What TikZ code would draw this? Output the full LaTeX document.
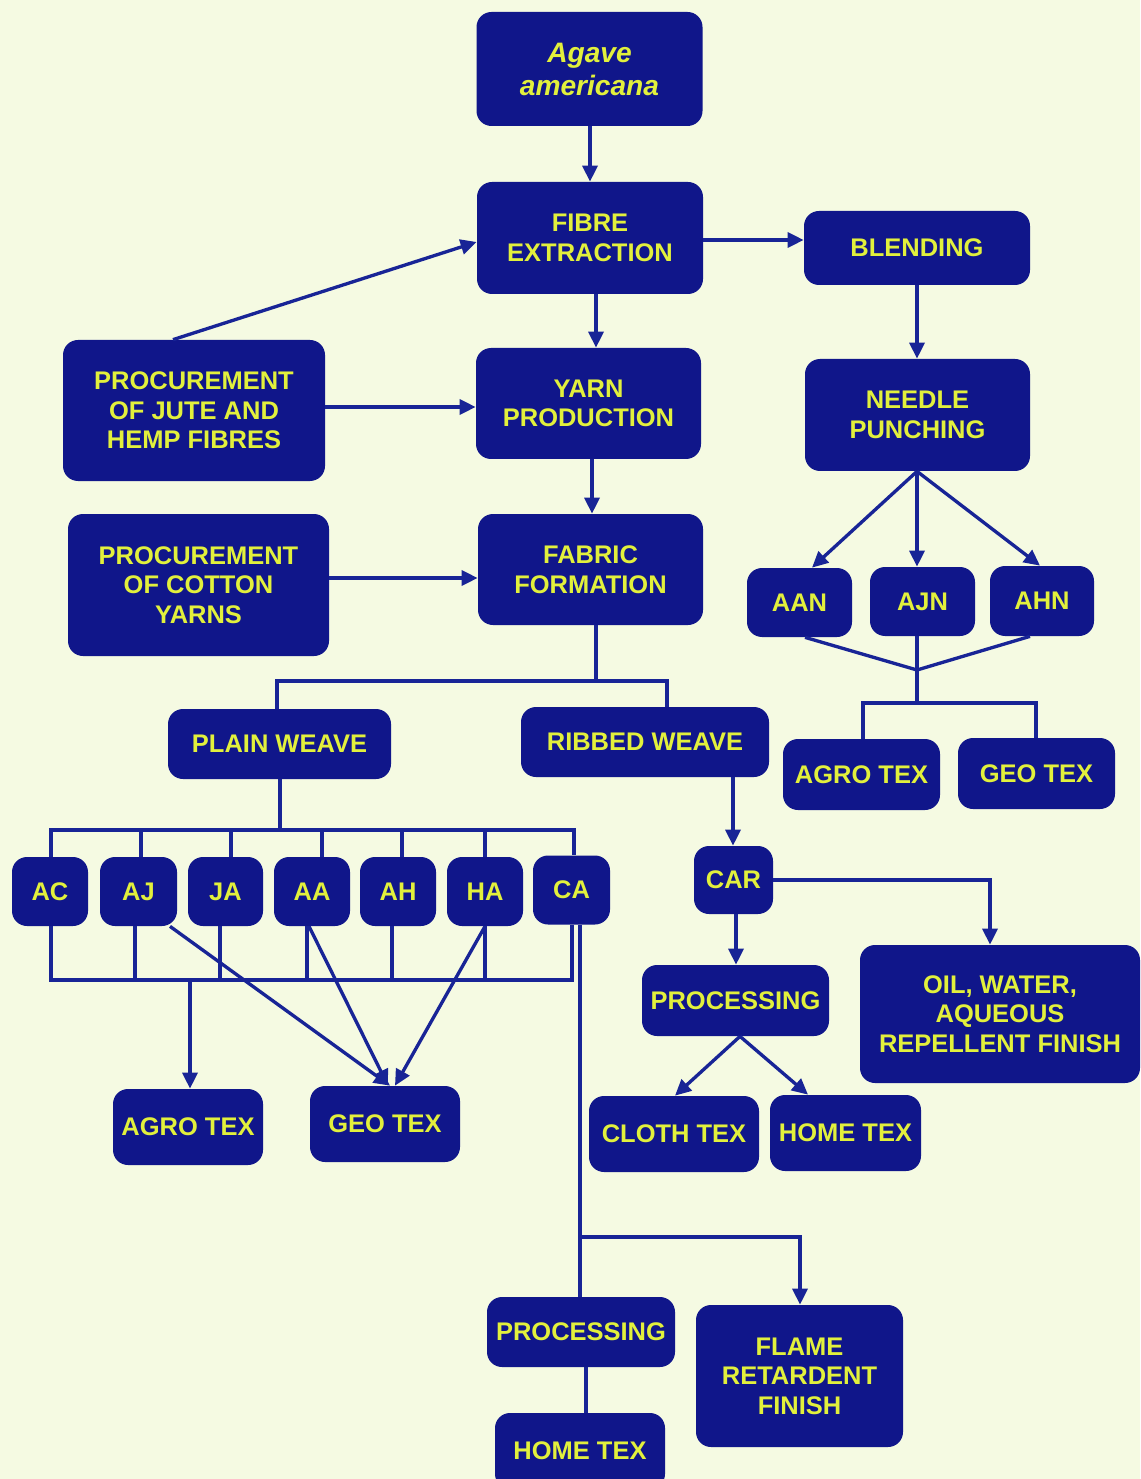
\documentclass[tikz,border=0pt]{standalone}
\usepackage{fontspec}
\setmainfont{Liberation Sans}
\usetikzlibrary{arrows.meta,calc}
\definecolor{bgc}{RGB}{245,250,226}
\definecolor{boxc}{RGB}{16,22,138}
\definecolor{txtc}{RGB}{226,240,60}
\definecolor{lnc}{RGB}{24,36,150}
\begin{document}
\begin{tikzpicture}[x=0.02cm,y=-0.02cm,
 box/.style 2 args={fill=boxc, rounded corners=0.3cm, text=txtc,
   font=\fontsize{14.5}{16.8}\selectfont\bfseries, align=center,
   minimum width=0.02cm*#1, minimum height=0.02cm*#2, inner sep=0pt},
 con/.style={draw=lnc, line width=1.9pt},
 arr/.style={con, -{Triangle[length=0.32cm,width=0.3cm]}}]
\useasboundingbox (0,0) rectangle (1140,1479);
\clip (0,0) rectangle (1140,1479);
\fill[bgc] (0,0) rectangle (1140,1479);

% nodes
\node[box={226}{114}, font=\fontsize{16}{18.8}\selectfont\bfseries\itshape] (agave) at (589.5,69) {Agave\\americana};
\node[box={226}{112}] (fibre) at (590,238) {FIBRE\\EXTRACTION};
\node[box={226}{74}] (blend) at (917,248) {BLENDING};
\node[box={262}{141}] (jute) at (194,410.5) {PROCUREMENT\\OF JUTE AND\\HEMP FIBRES};
\node[box={225}{111}] (yarn) at (588.5,403.5) {YARN\\PRODUCTION};
\node[box={225}{112}] (needle) at (917.5,415) {NEEDLE\\PUNCHING};
\node[box={261}{142}] (cotton) at (198.5,585) {PROCUREMENT\\OF COTTON\\YARNS};
\node[box={225}{111}] (fabric) at (590.5,569.5) {FABRIC\\FORMATION};
\node[box={105}{69}] (aan) at (799.5,602.5) {AAN};
\node[box={105}{69}] (ajn) at (922.5,601.5) {AJN};
\node[box={104}{70}] (ahn) at (1042,601) {AHN};
\node[box={223}{70}] (plain) at (279.5,744) {PLAIN WEAVE};
\node[box={248}{70}] (ribbed) at (645,742) {RIBBED WEAVE};
\node[box={157}{71}] (agroB) at (861.5,774.5) {AGRO TEX};
\node[box={157}{71}] (geoB) at (1036.5,773.5) {GEO TEX};
\node[box={76}{69}] (ac) at (50,891.5) {AC};
\node[box={77}{69}] (aj) at (138.5,891.5) {AJ};
\node[box={75}{69}] (ja) at (225.5,891.5) {JA};
\node[box={76}{69}] (aa) at (312,891.5) {AA};
\node[box={76}{69}] (ah) at (398,891.5) {AH};
\node[box={76}{69}] (ha) at (485,891.5) {HA};
\node[box={77}{69}] (ca) at (571.5,890) {CA};
\node[box={79}{68}] (car) at (733.5,880) {CAR};
\node[box={187}{71}] (procA) at (735.5,1000.5) {PROCESSING};
\node[box={280}{138}] (oil) at (1000,1014) {OIL, WATER,\\AQUEOUS\\REPELLENT FINISH};
\node[box={150}{76}] (agroA) at (188,1127) {AGRO TEX};
\node[box={150}{76}] (geoA) at (385,1124) {GEO TEX};
\node[box={170}{76}] (cloth) at (674,1134) {CLOTH TEX};
\node[box={151}{76}] (homeA) at (845.5,1133) {HOME TEX};
\node[box={188}{70}] (procB) at (581,1332) {PROCESSING};
\node[box={207}{142}] (flame) at (799.5,1376) {FLAME\\RETARDENT\\FINISH};
\node[box={170}{76}] (homeB) at (580,1451) {HOME TEX};

% junctions
\coordinate (fj) at (596,681);
\coordinate (nj) at (917,670);
\coordinate (nj2) at (917,703);
\coordinate (pj) at (280,830);
\coordinate (bj) at (190,980);
\coordinate (cj) at (580,1237);

% connectors
\draw[arr] (agave.south -| 590,0) -- (fibre.north -| 590,0);
\draw[arr] (fibre.east |- 0,240) -- (blend.west |- 0,240);
\draw[arr] (blend.south -| 917,0) -- (needle.north -| 917,0);
\draw[arr] (jute.north -| 173,0) -- (fibre.west |- 0,242);
\draw[arr] (jute.east |- 0,407) -- (yarn.west |- 0,407);
\draw[arr] (fibre.south -| 596,0) -- (yarn.north -| 596,0);
\draw[arr] (yarn.south -| 592,0) -- (fabric.north -| 592,0);
\draw[arr] (cotton.east |- 0,578) -- (fabric.west |- 0,578);

\draw[con] (fabric.south -| 596,0) -- (fj);
\draw[con] (plain.north -| 277,0) |- (fj) -| (ribbed.north -| 667,0);

\draw[arr] (needle.south -| 917,0) -- (aan.north -| 812,0);
\draw[arr] (needle.south -| 917,0) -- (ajn.north -| 917,0);
\draw[arr] (needle.south -| 917,0) -- (ahn.north -| 1040,0);
\draw[con] (aan.south -| 805,0) -- (nj);
\draw[con] (ajn.south -| 917,0) -- (nj);
\draw[con] (ahn.south -| 1030,0) -- (nj);
\draw[con] (nj) -- (nj2);
\draw[con] (agroB.north -| 863,0) |- (nj2) -| (geoB.north -| 1036,0);

\draw[con] (plain.south -| 280,0) -- (pj);
\draw[con] (ac.north -| 51,0) |- (pj) -| (ca.north -| 574,0);
\draw[con] (aj.north -| 141,0) |- (pj);
\draw[con] (ja.north -| 231,0) |- (pj);
\draw[con] (aa.north -| 322,0) |- (pj);
\draw[con] (ah.north -| 402,0) |- (pj);
\draw[con] (ha.north -| 485,0) |- (pj);

\draw[con] (ac.south -| 51,0) |- (bj) -| (ca.south -| 572,0);
\draw[con] (aj.south -| 135,0) |- (bj);
\draw[con] (ja.south -| 220,0) |- (bj);
\draw[con] (aa.south -| 307,0) |- (bj);
\draw[con] (ah.south -| 392,0) |- (bj);
\draw[con] (ha.south -| 485,0) |- (bj);
\draw[arr] (bj) -- (agroA.north -| 190,0);

\draw[arr] (aj.south -| 170,0) -- (geoA.north -| 390,0);
\draw[arr] (aa.south -| 309,0) -- (geoA.north -| 388,0);
\draw[arr] (ha.south -| 485,0) -- (geoA.north -| 395,0);

\draw[con] (ca.south -| 580,0) -- (procB.north -| 580,0);
\draw[arr] (cj) -| (flame.north -| 800,0);
\draw[con] (procB.south -| 586,0) -- (homeB.north -| 586,0);

\draw[arr] (ribbed.south -| 733,0) -- (car.north -| 733,0);
\draw[arr] (car.east |- 0,880) -| (oil.north -| 990,0);
\draw[arr] (car.south -| 736,0) -- (procA.north -| 736,0);
\draw[arr] (procA.south -| 740,0) -- (cloth.north -| 675,0);
\draw[arr] (procA.south -| 740,0) -- (homeA.north -| 808,0);
\end{tikzpicture}
\end{document}
